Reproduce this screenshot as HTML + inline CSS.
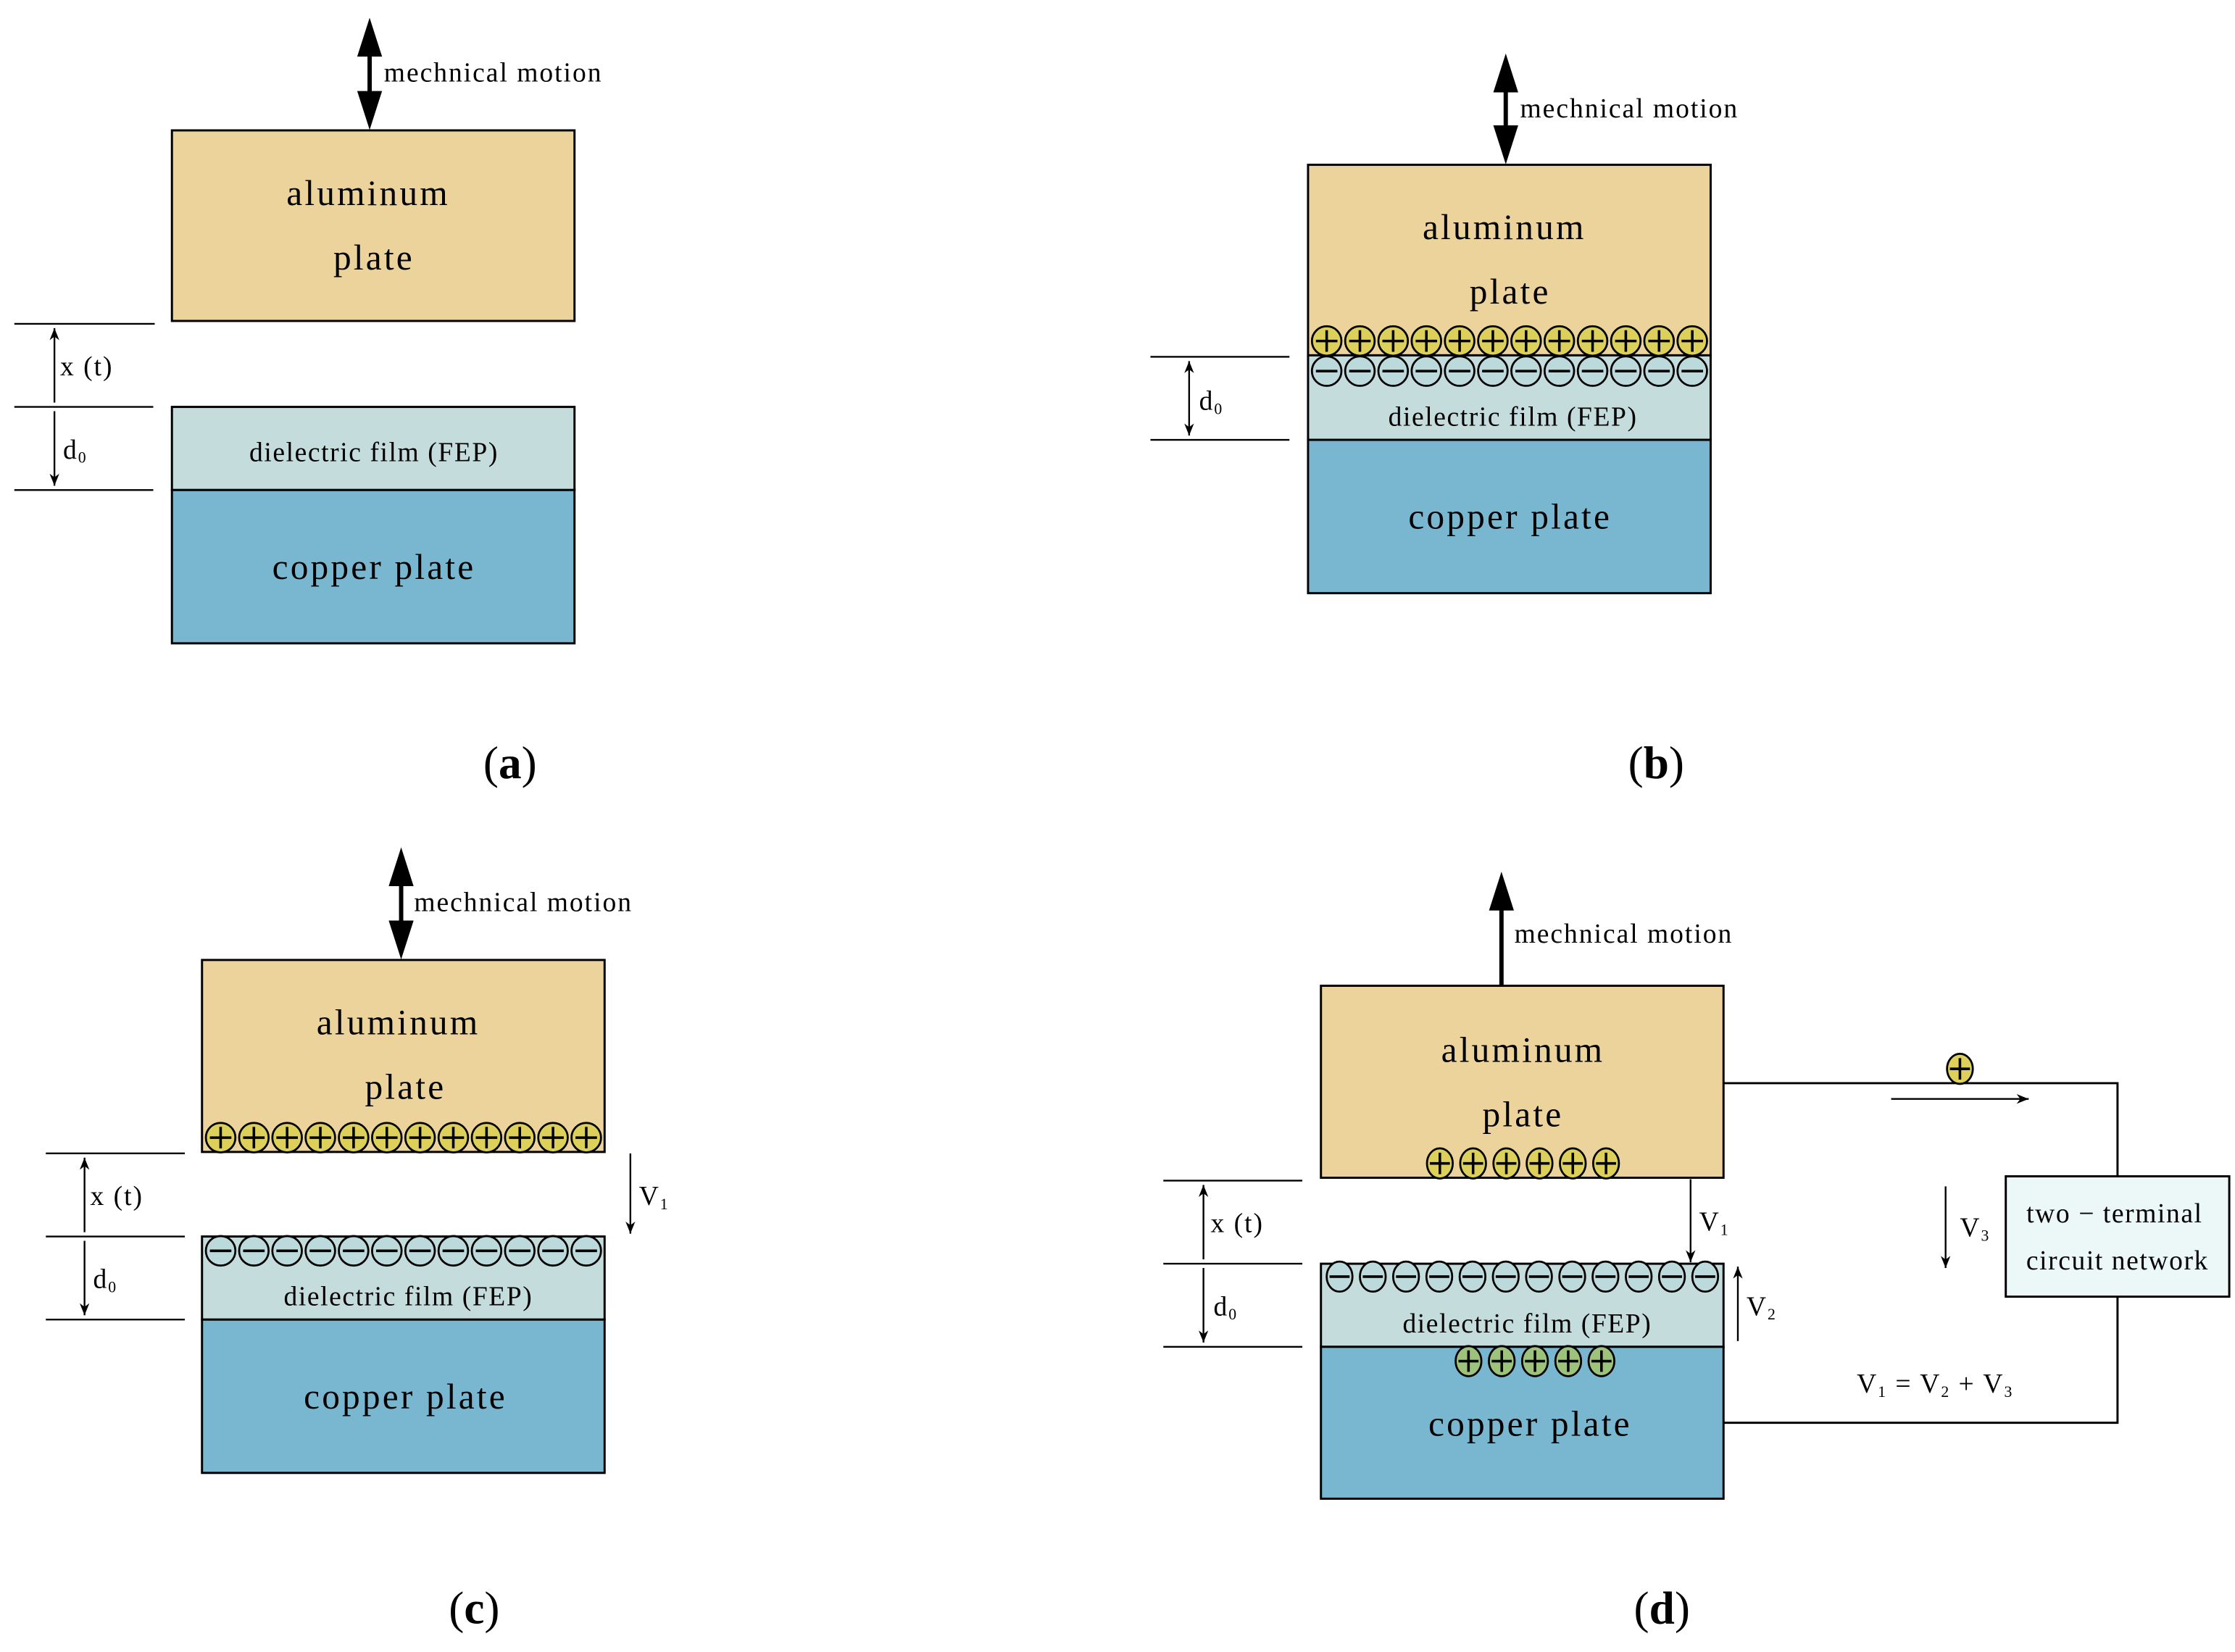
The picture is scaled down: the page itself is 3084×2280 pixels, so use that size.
<!DOCTYPE html>
<html><head><meta charset="utf-8"><style>html,body{margin:0;padding:0;background:#fff}svg{display:block}</style></head><body>
<svg width="3084" height="2280" viewBox="0 0 1560 1153" preserveAspectRatio="none" xmlns="http://www.w3.org/2000/svg" font-family="Liberation Serif, serif">
<defs>
<marker id="m" viewBox="0 0 10 10" refX="10" refY="5" markerWidth="7" markerHeight="7" orient="auto-start-reverse"><path d="M0,1 L10,5 L0,9 L3,5 z" fill="#000"/></marker>
<g id="p"><circle r="10.3" fill="#dccf5a" stroke="#000" stroke-width="1.4"/><path d="M-7.5 0H7.5M0 -7.5V7.5" stroke="#000" stroke-width="1.8"/></g>
<g id="n"><circle r="10.3" fill="#bcd9dc" stroke="#000" stroke-width="1.4"/><path d="M-7.5 0H7.5" stroke="#000" stroke-width="1.8"/></g>
<g id="ne"><ellipse rx="9" ry="10.5" fill="#bcd9dc" stroke="#000" stroke-width="1.4"/><path d="M-7 0H7" stroke="#000" stroke-width="1.8"/></g>
<g id="pe"><ellipse rx="9" ry="10.5" fill="#dccf5a" stroke="#000" stroke-width="1.4"/><path d="M-7 0H7M0 -7.5V7.5" stroke="#000" stroke-width="1.8"/></g>
<g id="g"><ellipse rx="9" ry="10.5" fill="#9dc27c" stroke="#000" stroke-width="1.4"/><path d="M-7 0H7M0 -7.5V7.5" stroke="#000" stroke-width="1.8"/></g>
</defs>
<g stroke="#000" stroke-width="1.5">
<rect x="120" y="91" width="281" height="133" fill="#ecd39c"/>
<rect x="120" y="284" width="281" height="58" fill="#c5dcdd"/>
<rect x="120" y="342" width="281" height="107" fill="#79b7d0"/>
<path d="M10 226H108M10 284H107M10 342H107" fill="none" stroke-width="1.2"/>
<path d="M38 229V281M38 287V339" stroke-width="1.2" marker-start="url(#m)" marker-end="url(#m)"/>
<rect x="913" y="115" width="281" height="133" fill="#ecd39c"/>
<rect x="913" y="248" width="281" height="59" fill="#c5dcdd"/>
<rect x="913" y="307" width="281" height="107" fill="#79b7d0"/>
<path d="M803 249H900M803 307H900" fill="none" stroke-width="1.2"/>
<path d="M830 252V304" stroke-width="1.2" marker-start="url(#m)" marker-end="url(#m)"/>
<rect x="141" y="670" width="281" height="134" fill="#ecd39c"/>
<rect x="141" y="863" width="281" height="58" fill="#c5dcdd"/>
<rect x="141" y="921" width="281" height="107" fill="#79b7d0"/>
<path d="M32 805H129M32 863H129M32 921H129" fill="none" stroke-width="1.2"/>
<path d="M59 808V860M59 866V918" stroke-width="1.2" marker-start="url(#m)" marker-end="url(#m)"/>
<path d="M440 805V861" stroke-width="1.2" marker-end="url(#m)"/>
<rect x="922" y="688" width="281" height="134" fill="#ecd39c"/>
<rect x="922" y="882" width="281" height="58" fill="#c5dcdd"/>
<rect x="922" y="940" width="281" height="106" fill="#79b7d0"/>
<path d="M812 824H909M812 882H909M812 940H909" fill="none" stroke-width="1.2"/>
<path d="M840 827V879M840 885V937" stroke-width="1.2" marker-start="url(#m)" marker-end="url(#m)"/>
<path d="M1180 823V881" stroke-width="1.2" marker-end="url(#m)"/>
<path d="M1213 936V884" stroke-width="1.2" marker-end="url(#m)"/>
<path d="M1358 828V885" stroke-width="1.2" marker-end="url(#m)"/>
<path d="M1320 767H1416" stroke-width="1.2" marker-end="url(#m)"/>
<path d="M1203 756H1478V821M1478 905V993H1203" fill="none" stroke-width="1.5"/>
<rect x="1400" y="821" width="156" height="84" fill="#ecf7f7"/>
</g>
<g fill="#000" stroke="#000">
<path d="M258 32V72" stroke-width="3"/><polygon points="258,14 250,39 266,39"/><polygon points="258,89 250,64 266,64"/>
<path d="M1051 57V96" stroke-width="3"/><polygon points="1051,39 1043,64 1059,64"/><polygon points="1051,113 1043,88 1059,88"/>
<path d="M280 611V650" stroke-width="3"/><polygon points="280,593 272,618 288,618"/><polygon points="280,668 272,643 288,643"/>
<path d="M1048 630V688" stroke-width="3"/><polygon points="1048,610 1040,635 1056,635"/>
</g>
<g>
<use href="#p" x="926" y="238"/><use href="#p" x="949.2" y="238"/><use href="#p" x="972.4" y="238"/><use href="#p" x="995.6" y="238"/><use href="#p" x="1018.8" y="238"/><use href="#p" x="1042" y="238"/><use href="#p" x="1065.2" y="238"/><use href="#p" x="1088.4" y="238"/><use href="#p" x="1111.6" y="238"/><use href="#p" x="1134.8" y="238"/><use href="#p" x="1158" y="238"/><use href="#p" x="1181.2" y="238"/>
<use href="#n" x="926" y="259"/><use href="#n" x="949.2" y="259"/><use href="#n" x="972.4" y="259"/><use href="#n" x="995.6" y="259"/><use href="#n" x="1018.8" y="259"/><use href="#n" x="1042" y="259"/><use href="#n" x="1065.2" y="259"/><use href="#n" x="1088.4" y="259"/><use href="#n" x="1111.6" y="259"/><use href="#n" x="1134.8" y="259"/><use href="#n" x="1158" y="259"/><use href="#n" x="1181.2" y="259"/>
<use href="#p" x="154" y="794"/><use href="#p" x="177.2" y="794"/><use href="#p" x="200.4" y="794"/><use href="#p" x="223.6" y="794"/><use href="#p" x="246.8" y="794"/><use href="#p" x="270" y="794"/><use href="#p" x="293.2" y="794"/><use href="#p" x="316.4" y="794"/><use href="#p" x="339.6" y="794"/><use href="#p" x="362.8" y="794"/><use href="#p" x="386" y="794"/><use href="#p" x="409.2" y="794"/>
<use href="#n" x="154" y="873"/><use href="#n" x="177.2" y="873"/><use href="#n" x="200.4" y="873"/><use href="#n" x="223.6" y="873"/><use href="#n" x="246.8" y="873"/><use href="#n" x="270" y="873"/><use href="#n" x="293.2" y="873"/><use href="#n" x="316.4" y="873"/><use href="#n" x="339.6" y="873"/><use href="#n" x="362.8" y="873"/><use href="#n" x="386" y="873"/><use href="#n" x="409.2" y="873"/>
<use href="#pe" x="1005" y="812"/><use href="#pe" x="1028.2" y="812"/><use href="#pe" x="1051.4" y="812"/><use href="#pe" x="1074.6" y="812"/><use href="#pe" x="1097.8" y="812"/><use href="#pe" x="1121" y="812"/>
<use href="#ne" x="935" y="891"/><use href="#ne" x="958.2" y="891"/><use href="#ne" x="981.4" y="891"/><use href="#ne" x="1004.6" y="891"/><use href="#ne" x="1027.8" y="891"/><use href="#ne" x="1051" y="891"/><use href="#ne" x="1074.2" y="891"/><use href="#ne" x="1097.4" y="891"/><use href="#ne" x="1120.6" y="891"/><use href="#ne" x="1143.8" y="891"/><use href="#ne" x="1167" y="891"/><use href="#ne" x="1190.2" y="891"/>
<use href="#g" x="1025" y="950"/><use href="#g" x="1048.2" y="950"/><use href="#g" x="1071.4" y="950"/><use href="#g" x="1094.6" y="950"/><use href="#g" x="1117.8" y="950"/>
<use href="#pe" x="1368" y="746"/>
</g>
<g fill="#000" text-anchor="middle" font-size="25" letter-spacing="1.6">
<text x="257" y="143">aluminum</text><text x="261" y="188">plate</text><text x="261" y="404">copper plate</text>
<text x="1050" y="167">aluminum</text><text x="1054" y="212">plate</text><text x="1054" y="369">copper plate</text>
<text x="278" y="722">aluminum</text><text x="283" y="767">plate</text><text x="283" y="983">copper plate</text>
<text x="1063" y="741">aluminum</text><text x="1063" y="786">plate</text><text x="1068" y="1002">copper plate</text>
</g>
<g fill="#000" text-anchor="middle" font-size="19" letter-spacing="0.8">
<text x="261" y="322">dielectric film (FEP)</text>
<text x="1056" y="297">dielectric film (FEP)</text>
<text x="285" y="911">dielectric film (FEP)</text>
<text x="1066" y="930">dielectric film (FEP)</text>
<text x="1476" y="853">two − terminal</text>
<text x="1478" y="886">circuit network</text>
</g>
<g fill="#000" font-size="19" letter-spacing="1">
<text x="268" y="57">mechnical motion</text>
<text x="1061" y="82">mechnical motion</text>
<text x="289" y="636">mechnical motion</text>
<text x="1057" y="658">mechnical motion</text>
<text x="42" y="262">x (t)</text><text x="44" y="320">d<tspan font-size="11" dy="3">0</tspan></text>
<text x="837" y="286">d<tspan font-size="11" dy="3">0</tspan></text>
<text x="63" y="841">x (t)</text><text x="65" y="899">d<tspan font-size="11" dy="3">0</tspan></text>
<text x="845" y="860">x (t)</text><text x="847" y="918">d<tspan font-size="11" dy="3">0</tspan></text>
<text x="446" y="841">V<tspan font-size="11" dy="3">1</tspan></text>
<text x="1186" y="859">V<tspan font-size="11" dy="3">1</tspan></text>
<text x="1219" y="918">V<tspan font-size="11" dy="3">2</tspan></text>
<text x="1368" y="863">V<tspan font-size="11" dy="3">3</tspan></text>
<text x="1296" y="972">V<tspan font-size="11" dy="3">1</tspan><tspan dy="-3"> = V</tspan><tspan font-size="11" dy="3">2</tspan><tspan dy="-3"> + V</tspan><tspan font-size="11" dy="3">3</tspan></text>
</g>
<g fill="#000" text-anchor="middle" font-size="32">
<text x="356" y="543">(<tspan font-weight="bold">a</tspan>)</text>
<text x="1156" y="543">(<tspan font-weight="bold">b</tspan>)</text>
<text x="331" y="1133">(<tspan font-weight="bold">c</tspan>)</text>
<text x="1160" y="1133">(<tspan font-weight="bold">d</tspan>)</text>
</g>
</svg>
</body></html>
